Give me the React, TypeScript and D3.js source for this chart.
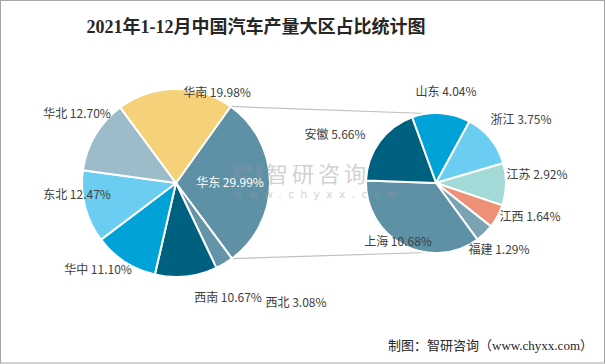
import { useEffect, useRef } from 'react';
import * as d3 from 'd3';

// main pie: regions
const regions = ['华东', '西北', '西南', '华中', '东北', '华北', '华南'];
const regionShare = [29.99, 3.08, 10.67, 11.1, 12.47, 12.7, 19.98];
const regionColors = ['#5e91a6', '#6494a8', '#00607f', '#00a2d8', '#6bcdf2', '#9dbcc9', '#f5d27a'];

// second pie: provinces of 华东
const provinces = ['山东', '浙江', '江苏', '江西', '福建', '上海', '安徽'];
const provinceShare = [4.04, 3.75, 2.92, 1.64, 1.29, 10.68, 5.66];
const provinceColors = ['#00a2d8', '#6bcdf2', '#a3d9d6', '#ee9077', '#7aa3b3', '#5e91a6', '#00607f'];

// label centres (placed as in the reference)
const regionLabelPos: [number, number][] = [
  [230, 183], [296, 303], [228, 298], [98, 270], [77, 195], [77, 114], [217, 93],
];
const provinceLabelPos: [number, number][] = [
  [446, 92], [521, 120], [537, 175], [530, 217], [499, 250], [398, 242], [335, 135],
];

const deg = Math.PI / 180;

function App() {
  const ref = useRef<SVGSVGElement>(null);

  useEffect(() => {
    const svg = d3.select(ref.current);
    svg.selectAll('*').remove();

    const width = 606;
    const height = 364;
    svg.attr('width', width).attr('height', height);

    svg.append('rect')
      .attr('x', 0.5).attr('y', 0.5)
      .attr('width', 604).attr('height', 362.5)
      .attr('fill', '#fff')
      .attr('stroke', '#a6a6a6');

    // title
    svg.append('text')
      .attr('x', 256).attr('y', 33)
      .attr('text-anchor', 'middle')
      .style('font-family', '"Liberation Serif", "Noto Sans CJK SC", serif')
      .style('font-size', '18px')
      .style('font-weight', 'bold')
      .style('fill', '#262626')
      .text('2021年1-12月中国汽车产量大区占比统计图');

    const font = '"Noto Sans CJK SC", "Noto Sans", sans-serif';

    // main pie
    const c1 = { x: 176, y: 183, r: 94 };
    const start1 = 35.5 * deg;
    const pie1 = d3.pie<number>().sort(null).startAngle(start1).endAngle(start1 + 2 * Math.PI);
    const arcs1 = pie1(regionShare);
    const arc1 = d3.arc<d3.PieArcDatum<number>>().innerRadius(0).outerRadius(c1.r);

    // second pie
    const c2 = { x: 436, y: 183, r: 70 };
    const start2 = -20 * deg;
    const pie2 = d3.pie<number>().sort(null).startAngle(start2).endAngle(start2 + 2 * Math.PI);
    const arcs2 = pie2(provinceShare);
    const arc2 = d3.arc<d3.PieArcDatum<number>>().innerRadius(0).outerRadius(c2.r);

    // connector lines from the split slice to the second pie
    const split = arcs1[0];
    const pt = (c: { x: number; y: number; r: number }, a: number) =>
      [c.x + c.r * Math.sin(a), c.y - c.r * Math.cos(a)];
    const links = [
      [pt(c1, split.startAngle), pt(c2, -7 * deg)],
      [pt(c1, split.endAngle), pt(c2, 187 * deg)],
    ];
    svg.selectAll('line.link')
      .data(links)
      .enter()
      .append('line')
      .attr('class', 'link')
      .attr('x1', (d) => d[0][0]).attr('y1', (d) => d[0][1])
      .attr('x2', (d) => d[1][0]).attr('y2', (d) => d[1][1])
      .attr('stroke', '#c0c0c0')
      .attr('stroke-width', 1.2);

    const g1 = svg.append('g').attr('transform', `translate(${c1.x},${c1.y})`);
    g1.selectAll('path')
      .data(arcs1)
      .enter()
      .append('path')
      .attr('d', arc1)
      .attr('fill', (_, i) => regionColors[i])
      .attr('stroke', '#fff')
      .attr('stroke-width', 2)
      .attr('stroke-linejoin', 'round');

    const g2 = svg.append('g').attr('transform', `translate(${c2.x},${c2.y})`);
    g2.selectAll('path')
      .data(arcs2)
      .enter()
      .append('path')
      .attr('d', arc2)
      .attr('fill', (_, i) => provinceColors[i])
      .attr('stroke', '#fff')
      .attr('stroke-width', 2)
      .attr('stroke-linejoin', 'round');

    // watermark
    const wm = svg.append('g').style('opacity', 0.45);
    wm.append('path')
      .attr('d', 'M234,165h18v8h-10v3h10v8h-8l6,-5h-16z M256,165h6v19h-6z')
      .attr('fill', '#7f93a8');
    wm.append('text')
      .attr('x', 266).attr('y', 182)
      .style('font-family', font)
      .style('font-size', '22px')
      .style('letter-spacing', '4px')
      .style('fill', '#9a9a9a')
      .text('智研咨询');
    wm.append('text')
      .attr('x', 234).attr('y', 198)
      .style('font-family', '"DejaVu Sans", sans-serif')
      .style('font-size', '10.5px')
      .style('letter-spacing', '6.5px')
      .style('fill', '#9a9a9a')
      .text('www.chyxx.com');

    // labels
    const fmt = (v: number) => `${v.toFixed(2)}%`;
    svg.append('g')
      .selectAll('text')
      .data(regions)
      .enter()
      .append('text')
      .attr('x', (_, i) => regionLabelPos[i][0])
      .attr('y', (_, i) => regionLabelPos[i][1])
      .attr('dy', '0.35em')
      .attr('text-anchor', 'middle')
      .style('font-family', font)
      .style('font-size', '12px')
      .style('fill', (_, i) => (i === 0 ? '#fff' : '#404040'))
      .text((d, i) => `${d} ${fmt(regionShare[i])}`);

    svg.append('g')
      .selectAll('text')
      .data(provinces)
      .enter()
      .append('text')
      .attr('x', (_, i) => provinceLabelPos[i][0])
      .attr('y', (_, i) => provinceLabelPos[i][1])
      .attr('dy', '0.35em')
      .attr('text-anchor', 'middle')
      .style('font-family', font)
      .style('font-size', '12px')
      .style('fill', '#404040')
      .text((d, i) => `${d} ${fmt(provinceShare[i])}`);

    // source
    svg.append('text')
      .attr('x', 593).attr('y', 350)
      .attr('text-anchor', 'end')
      .style('font-family', '"Liberation Serif", "Noto Sans CJK SC", serif')
      .style('font-size', '13px')
      .style('fill', '#262626')
      .text('制图：智研咨询（www.chyxx.com）');
  }, []);

  return <svg ref={ref} style={{ position: 'absolute', left: 0, top: 0 }}></svg>;
}

export default App;
